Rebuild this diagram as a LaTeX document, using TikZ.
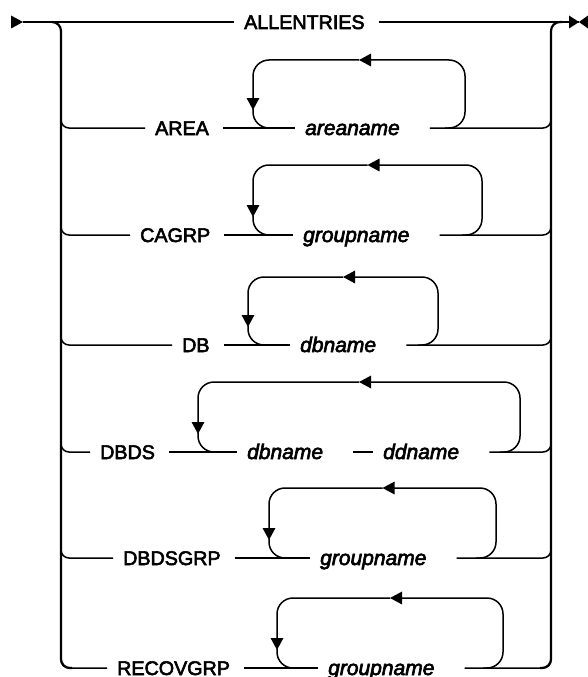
\documentclass[tikz,border=0pt]{standalone}
\usepackage{fontspec}
\setmainfont{Liberation Sans}
\newfontfamily\kwfont{Liberation Sans}[FakeBold=3]
\usetikzlibrary{arrows.meta}

\tikzset{
  kw/.style={anchor=west, inner xsep=10pt, inner ysep=0pt, text height=14pt, text depth=0pt,
    font=\kwfont\fontsize{19.7pt}{20pt}\selectfont, execute at end node={\hspace{4pt}}},
  var/.style={kw, font=\kwfont\fontsize{21pt}{22pt}\selectfont\itshape, execute at end node={\hspace{16pt}}},
  rail/.style={line width=1.5pt},
  bar/.style={line width=2.2pt, rounded corners=9pt},
  tip/.style={-{Triangle[length=12pt,width=12.5pt]}}
}

% loop back: left x, right x, top y, row y
\newcommand{\repeatloop}[4]{%
  \draw[rail, tip, rounded corners=16pt] ({#2-20},#4) -- (#2,#4) -- (#2,#3) -- ({(#1+#2)/2},#3);
  \draw[rail, tip, rounded corners=16pt] ({(#1+#2)/2},#3) -- (#1,#3) -- (#1,{#4-18});
  \draw[rail, rounded corners=16pt] (#1,{#4-19}) -- (#1,#4) -- ({#1+20},#4);
}

\begin{document}
\begin{tikzpicture}[x=1pt, y=-1pt]
  \useasboundingbox (0,0) rectangle (588,677);

  % Start and end
  \coordinate (begin) at (23,22);
  \coordinate (finish) at (579,22);
  \fill (begin) -- ++(-12,-6.5) -- ++(0,13) -- cycle;
  \fill (finish) -- ++(-10,-6.5) -- ++(0,13) -- cycle;
  \fill (finish) -- ++(9,-6.5) -- ++(0,13) -- cycle;

  % Keywords
  \node[kw] (all) at (234,22) {ALLENTRIES};
  \node[kw] (area) at (145,128) {AREA};
  \node[kw] (cagrp) at (130,235) {CAGRP};
  \node[kw] (db) at (172,345) {DB};
  \node[kw] (dbds) at (90,452) {DBDS};
  \node[kw] (dbdsgrp) at (113,558) {DBDSGRP};
  \node[kw] (recov) at (107,668) {RECOVGRP};

  % Variables
  \node[var] (areaname) at (295,128) {areaname};
  \node[var] (cagroup) at (293,235) {groupname};
  \node[var] (dbname) at (290,345) {dbname};
  \node[var] (dbdsname) at (237,452) {dbname};
  \node[var] (ddname) at (373,452) {ddname};
  \node[var] (dsgroup) at (310,558) {groupname};
  \node[var] (recgroup) at (318,668) {groupname};

  % Main line
  \draw[rail] (begin) -- (all) -- (finish);

  % Side bars
  \draw[bar] (52,22) -- (61,22) -- (61,668) -- (72,668);
  \draw[bar] (540,668) -- (551,668) -- (551,22) -- (562,22);

  % Rows
  \foreach \kwd/\y in {area/128, cagrp/235, db/345, dbds/452, dbdsgrp/558, recov/668}
    \draw[rail, rounded corners=8pt] (61,{\y-18}) |- (\kwd);
  \foreach \a/\b in {area/areaname, cagrp/cagroup, db/dbname, dbds/dbdsname, dbdsname/ddname, dbdsgrp/dsgroup, recov/recgroup}
    \draw[rail] (\a) -- (\b);
  \foreach \var/\y in {areaname/128, cagroup/235, dbname/345, ddname/452, dsgroup/558, recgroup/668}
    \draw[rail, rounded corners=8pt] (\var) -| (551,{\y-18});

  % Repeat loops
  \repeatloop{253}{465}{60}{128}
  \repeatloop{253}{482}{165}{235}
  \repeatloop{248}{438}{277}{345}
  \repeatloop{198}{520}{382}{452}
  \repeatloop{269}{496}{488}{558}
  \repeatloop{277}{503}{598}{668}
\end{tikzpicture}
\end{document}
